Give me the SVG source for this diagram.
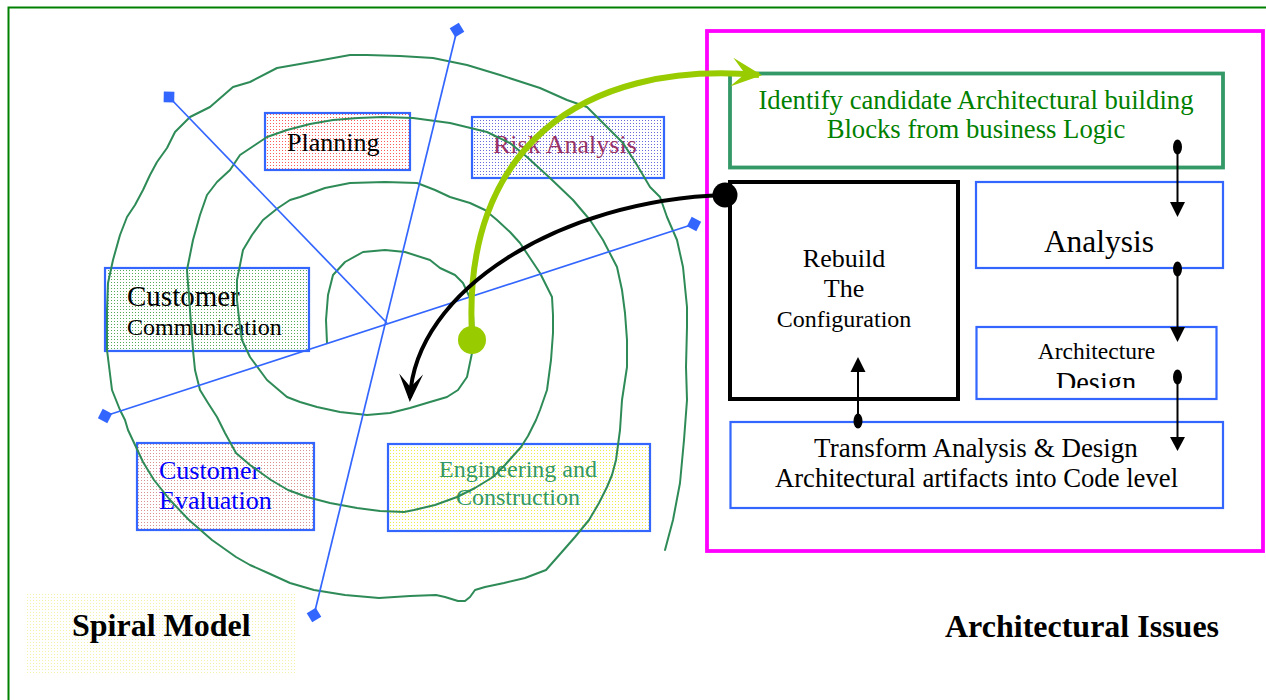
<svg xmlns="http://www.w3.org/2000/svg" width="1266" height="700" viewBox="0 0 1266 700">
  <style>
    text { font-family: "Liberation Serif", "Times New Roman", serif; }
    .box { stroke: #3366ff; stroke-width: 2.2; }
    .axis { stroke: #3366ff; stroke-width: 1.7; fill: none; }
    .spiral { stroke: #2e8b57; stroke-width: 2; fill: none; stroke-linejoin: round; stroke-linecap: round; }
    .link { stroke: #000; stroke-width: 2; fill: none; }
    .tip { fill: #000; }
    .title { font-weight: bold; font-size: 32px; fill: #000; }
  </style>
  <defs>
    <pattern id="dotRed" width="3" height="3" patternUnits="userSpaceOnUse">
      <rect width="3" height="3" fill="#fff"/><rect width="1" height="1" fill="#ff5a5a"/>
    </pattern>
    <pattern id="dotBlue" width="3" height="3" patternUnits="userSpaceOnUse">
      <rect width="3" height="3" fill="#fff"/><rect width="1" height="1" fill="#6a6ae0"/>
    </pattern>
    <pattern id="dotGreen" width="3" height="3" patternUnits="userSpaceOnUse">
      <rect width="3" height="3" fill="#fff"/><rect width="1" height="1" fill="#55aa55"/>
    </pattern>
    <pattern id="dotPink" width="3" height="3" patternUnits="userSpaceOnUse">
      <rect width="3" height="3" fill="#fff"/><rect width="1" height="1" fill="#d99090"/>
    </pattern>
    <pattern id="dotYellow" width="3" height="3" patternUnits="userSpaceOnUse">
      <rect width="3" height="3" fill="#fff"/><rect width="1" height="1" fill="#eeee44"/>
    </pattern>
    <pattern id="dotPale" width="3" height="3" patternUnits="userSpaceOnUse">
      <rect width="3" height="3" fill="#fff"/><rect width="1" height="1" fill="#f4f4a8"/>
    </pattern>
    <marker id="diamond" viewBox="-8 -8 16 16" markerWidth="16" markerHeight="16" refX="0" refY="0" orient="auto" markerUnits="userSpaceOnUse">
      <path d="M-7.5,0 L0,-7.5 L7.5,0 L0,7.5 Z" fill="#3366ff"/>
    </marker>
    <marker id="barbBlack" viewBox="-30 -14 34 28" markerWidth="34" markerHeight="28" refX="0" refY="0" orient="auto" markerUnits="userSpaceOnUse">
      <path d="M4,0 L-24,-12 L-11,0 L-24,12 Z" fill="#000"/>
    </marker>
    <marker id="barbGreen" viewBox="-30 -17 34 34" markerWidth="34" markerHeight="34" refX="0" refY="0" orient="auto" markerUnits="userSpaceOnUse">
      <path d="M3,0 L-27,-15 L-14,0 L-28,14 Z" fill="#99cc00"/>
    </marker>
    <clipPath id="designClip">
      <rect x="976" y="327" width="240" height="61"/>
    </clipPath>
  </defs>

  <rect width="1266" height="700" fill="#fff"/>
  <!-- page frame -->
  <rect x="8.5" y="7.5" width="1275" height="710" fill="none" stroke="#008000" stroke-width="2"/>

  <!-- spiral model phases -->
  <g id="planning">
    <rect class="box" x="265" y="113" width="145" height="57" fill="url(#dotRed)"/>
    <text x="287" y="151" font-size="26" fill="#000">Planning</text>
  </g>
  <g id="risk-analysis">
    <rect class="box" x="472" y="117" width="192" height="61" fill="url(#dotBlue)"/>
    <text x="493" y="153" font-size="26" fill="#993366">Risk Analysis</text>
  </g>
  <g id="customer-communication">
    <rect class="box" x="105" y="268" width="204" height="83" fill="url(#dotGreen)"/>
    <text x="127" y="306" font-size="29" fill="#000">Customer</text>
    <text x="127" y="335" font-size="24" fill="#000">Communication</text>
  </g>
  <g id="customer-evaluation">
    <rect class="box" x="137" y="443" width="177" height="87" fill="url(#dotPink)"/>
    <text x="159" y="479" font-size="26" fill="#0000ff">Customer</text>
    <text x="159" y="509" font-size="26" fill="#0000ff">Evaluation</text>
  </g>
  <g id="engineering-construction">
    <rect class="box" x="388" y="444" width="262" height="87" fill="url(#dotYellow)"/>
    <text x="518" y="477" font-size="24" fill="#339966" text-anchor="middle">Engineering and</text>
    <text x="518" y="505" font-size="24" fill="#339966" text-anchor="middle">Construction</text>
  </g>

  <!-- spiral and quadrant axes -->
  <g id="spiral">
    <path class="spiral" d="M327,343 L326,320 L328,295 L333,275 L345,262 L363,252 L385,250 L405,252 L430,260 L440,268 L455,275 L463,283 L470,298 L473,315 L474,335 L472,353 L467,377 L458,390 L447,397 L430,402 L410,408 L390,413 L367,415 L340,412 L317,407 L300,402 L287,397 L267,380 L250,357 L242,340 L240,327 L237,300 L237,280 L243,250 L252,235 L263,220 L278,208 L290,200 L300,197 L325,188 L350,183 L385,182 L417,183 L435,190 L450,197 L470,203 L485,210 L497,220 L510,232 L520,243 L530,258 L540,273 L552,297 L553,315 L553,333 L551,360 L547,390 L540,410 L536,420 L528,436 L521,447 L505,465 L493,477 L475,488 L457,497 L435,505 L414,510 L404,512 L380,511 L357,508 L330,503 L307,497 L288,490 L271,480 L250,465 L236,453 L225,433 L217,417 L208,403 L200,390 L195,370 L193,350 L190,310 L187,270 L193,240 L200,215 L207,195 L217,182 L230,170 L240,155 L255,145 L267,137 L287,130 L310,124 L333,120 L358,118 L383,117 L413,118 L450,123 L487,132 L510,143 L527,157 L550,178 L573,200 L590,220 L603,240 L617,267 L622,290 L625,313 L627,340 L627,367 L622,400 L620,430 L616,460 L612,475 L607,487 L599,503 L589,520 L575,537 L561,553 L546,570 L525,578 L504,583 L485,587 L475,590 L470,597 L465,601 L458,601 L445,597 L436,595 L410,596 L379,598 L345,595 L314,590 L290,583 L268,573 L250,565 L236,557 L212,540 L189,520 L170,500 L154,480 L143,462 L136,447 L128,430 L125,420 L120,410 L112,390 L107,350 L107,310 L108,283 L113,260 L120,235 L127,217 L135,205 L143,190 L150,175 L157,162 L167,148 L175,132 L190,117 L210,107 L233,87 L250,82 L277,68 L317,61 L350,55 L367,55 L400,56 L433,58 L467,65 L500,75 L540,88 L567,100 L587,107 L600,120 L612,132 L623,143 L637,165 L650,187 L660,197 L667,217 L677,240 L683,267 L687,307 L687,327 L686,367 L687,400 L684,440 L680,483 L673,520 L665,550"/>
    <line class="axis" x1="387" y1="323" x2="169" y2="97" marker-end="url(#diamond)"/>
    <line class="axis" x1="457" y1="30" x2="314" y2="615" marker-start="url(#diamond)" marker-end="url(#diamond)"/>
    <line class="axis" x1="105" y1="416" x2="694" y2="224" marker-start="url(#diamond)" marker-end="url(#diamond)"/>
  </g>

  <g id="spiral-model-label">
    <rect x="27" y="593" width="270" height="80" fill="url(#dotPale)"/>
    <text class="title" x="72" y="636">Spiral Model</text>
  </g>

  <!-- architectural issues panel -->
  <g id="architectural-panel">
    <rect x="707" y="31" width="556" height="520" fill="none" stroke="#ff00ff" stroke-width="3.8"/>
  </g>
  <g id="identify-blocks">
    <rect x="730" y="73.5" width="493" height="94" fill="#fff" stroke="#339966" stroke-width="3.8"/>
    <text x="976" y="109" font-size="26.7" fill="#008000" text-anchor="middle">Identify candidate Architectural building</text>
    <text x="976" y="138" font-size="26.7" fill="#008000" text-anchor="middle">Blocks from business Logic</text>
  </g>
  <g id="rebuild-configuration">
    <rect x="730" y="182" width="228" height="217" fill="#fff" stroke="#000" stroke-width="4"/>
    <text x="844" y="267" font-size="26" fill="#000" text-anchor="middle">Rebuild</text>
    <text x="844" y="297" font-size="26" fill="#000" text-anchor="middle">The</text>
    <text x="844" y="327" font-size="24" fill="#000" text-anchor="middle">Configuration</text>
  </g>
  <g id="analysis">
    <rect class="box" x="976" y="182" width="247" height="86" fill="#fff"/>
    <text x="1099" y="252" font-size="31.5" fill="#000" text-anchor="middle">Analysis</text>
  </g>
  <g id="architecture-design">
    <rect class="box" x="976.5" y="327" width="240" height="72" fill="#fff"/>
    <text x="1096.5" y="359" font-size="23.5" fill="#000" text-anchor="middle">Architecture</text>
    <text x="1096" y="392" font-size="28.5" fill="#000" text-anchor="middle" clip-path="url(#designClip)">Design</text>
  </g>
  <g id="transform-code">
    <rect class="box" x="730.5" y="422" width="492.5" height="86" fill="#fff"/>
    <text x="976" y="457" font-size="27" fill="#000" text-anchor="middle">Transform Analysis &amp; Design</text>
    <text x="976.5" y="487" font-size="26.7" fill="#000" text-anchor="middle">Architectural artifacts into Code level</text>
  </g>
  <g id="architectural-issues-label">
    <text class="title" x="945" y="637">Architectural Issues</text>
  </g>

  <!-- connectors -->
  <g id="connectors">
    <!-- green sweep from the spiral core into the first architectural step -->
    <path d="M472,334 C462,150 580,60 759,75" fill="none" stroke="#99cc00" stroke-width="6" marker-end="url(#barbGreen)"/>
    <circle cx="472" cy="340" r="14" fill="#99cc00"/>
    <!-- black return arc from the configuration step back into the spiral -->
    <path d="M725,195 C560,200 415,290 410,398" fill="none" stroke="#000" stroke-width="4" marker-end="url(#barbBlack)"/>
    <circle cx="725" cy="195" r="12.5" fill="#000"/>

    <!-- step flow on the right -->
    <ellipse cx="1177.5" cy="147" rx="4.5" ry="7.5" class="tip"/>
    <line class="link" x1="1177.5" y1="147" x2="1177.5" y2="204"/>
    <path class="tip" d="M1170,202 L1185,202 L1177.5,217 Z"/>

    <ellipse cx="1177.5" cy="269" rx="4.5" ry="7.5" class="tip"/>
    <line class="link" x1="1177.5" y1="269" x2="1177.5" y2="329"/>
    <path class="tip" d="M1170,327 L1185,327 L1177.5,342 Z"/>

    <ellipse cx="1177.5" cy="377" rx="4.5" ry="7.5" class="tip"/>
    <line class="link" x1="1177.5" y1="377" x2="1177.5" y2="439"/>
    <path class="tip" d="M1170,437 L1185,437 L1177.5,451 Z"/>

    <ellipse cx="858" cy="421" rx="4.5" ry="7.5" class="tip"/>
    <line class="link" x1="858" y1="421" x2="858" y2="370"/>
    <path class="tip" d="M850.5,372 L865.5,372 L858,357 Z"/>
  </g>
</svg>
